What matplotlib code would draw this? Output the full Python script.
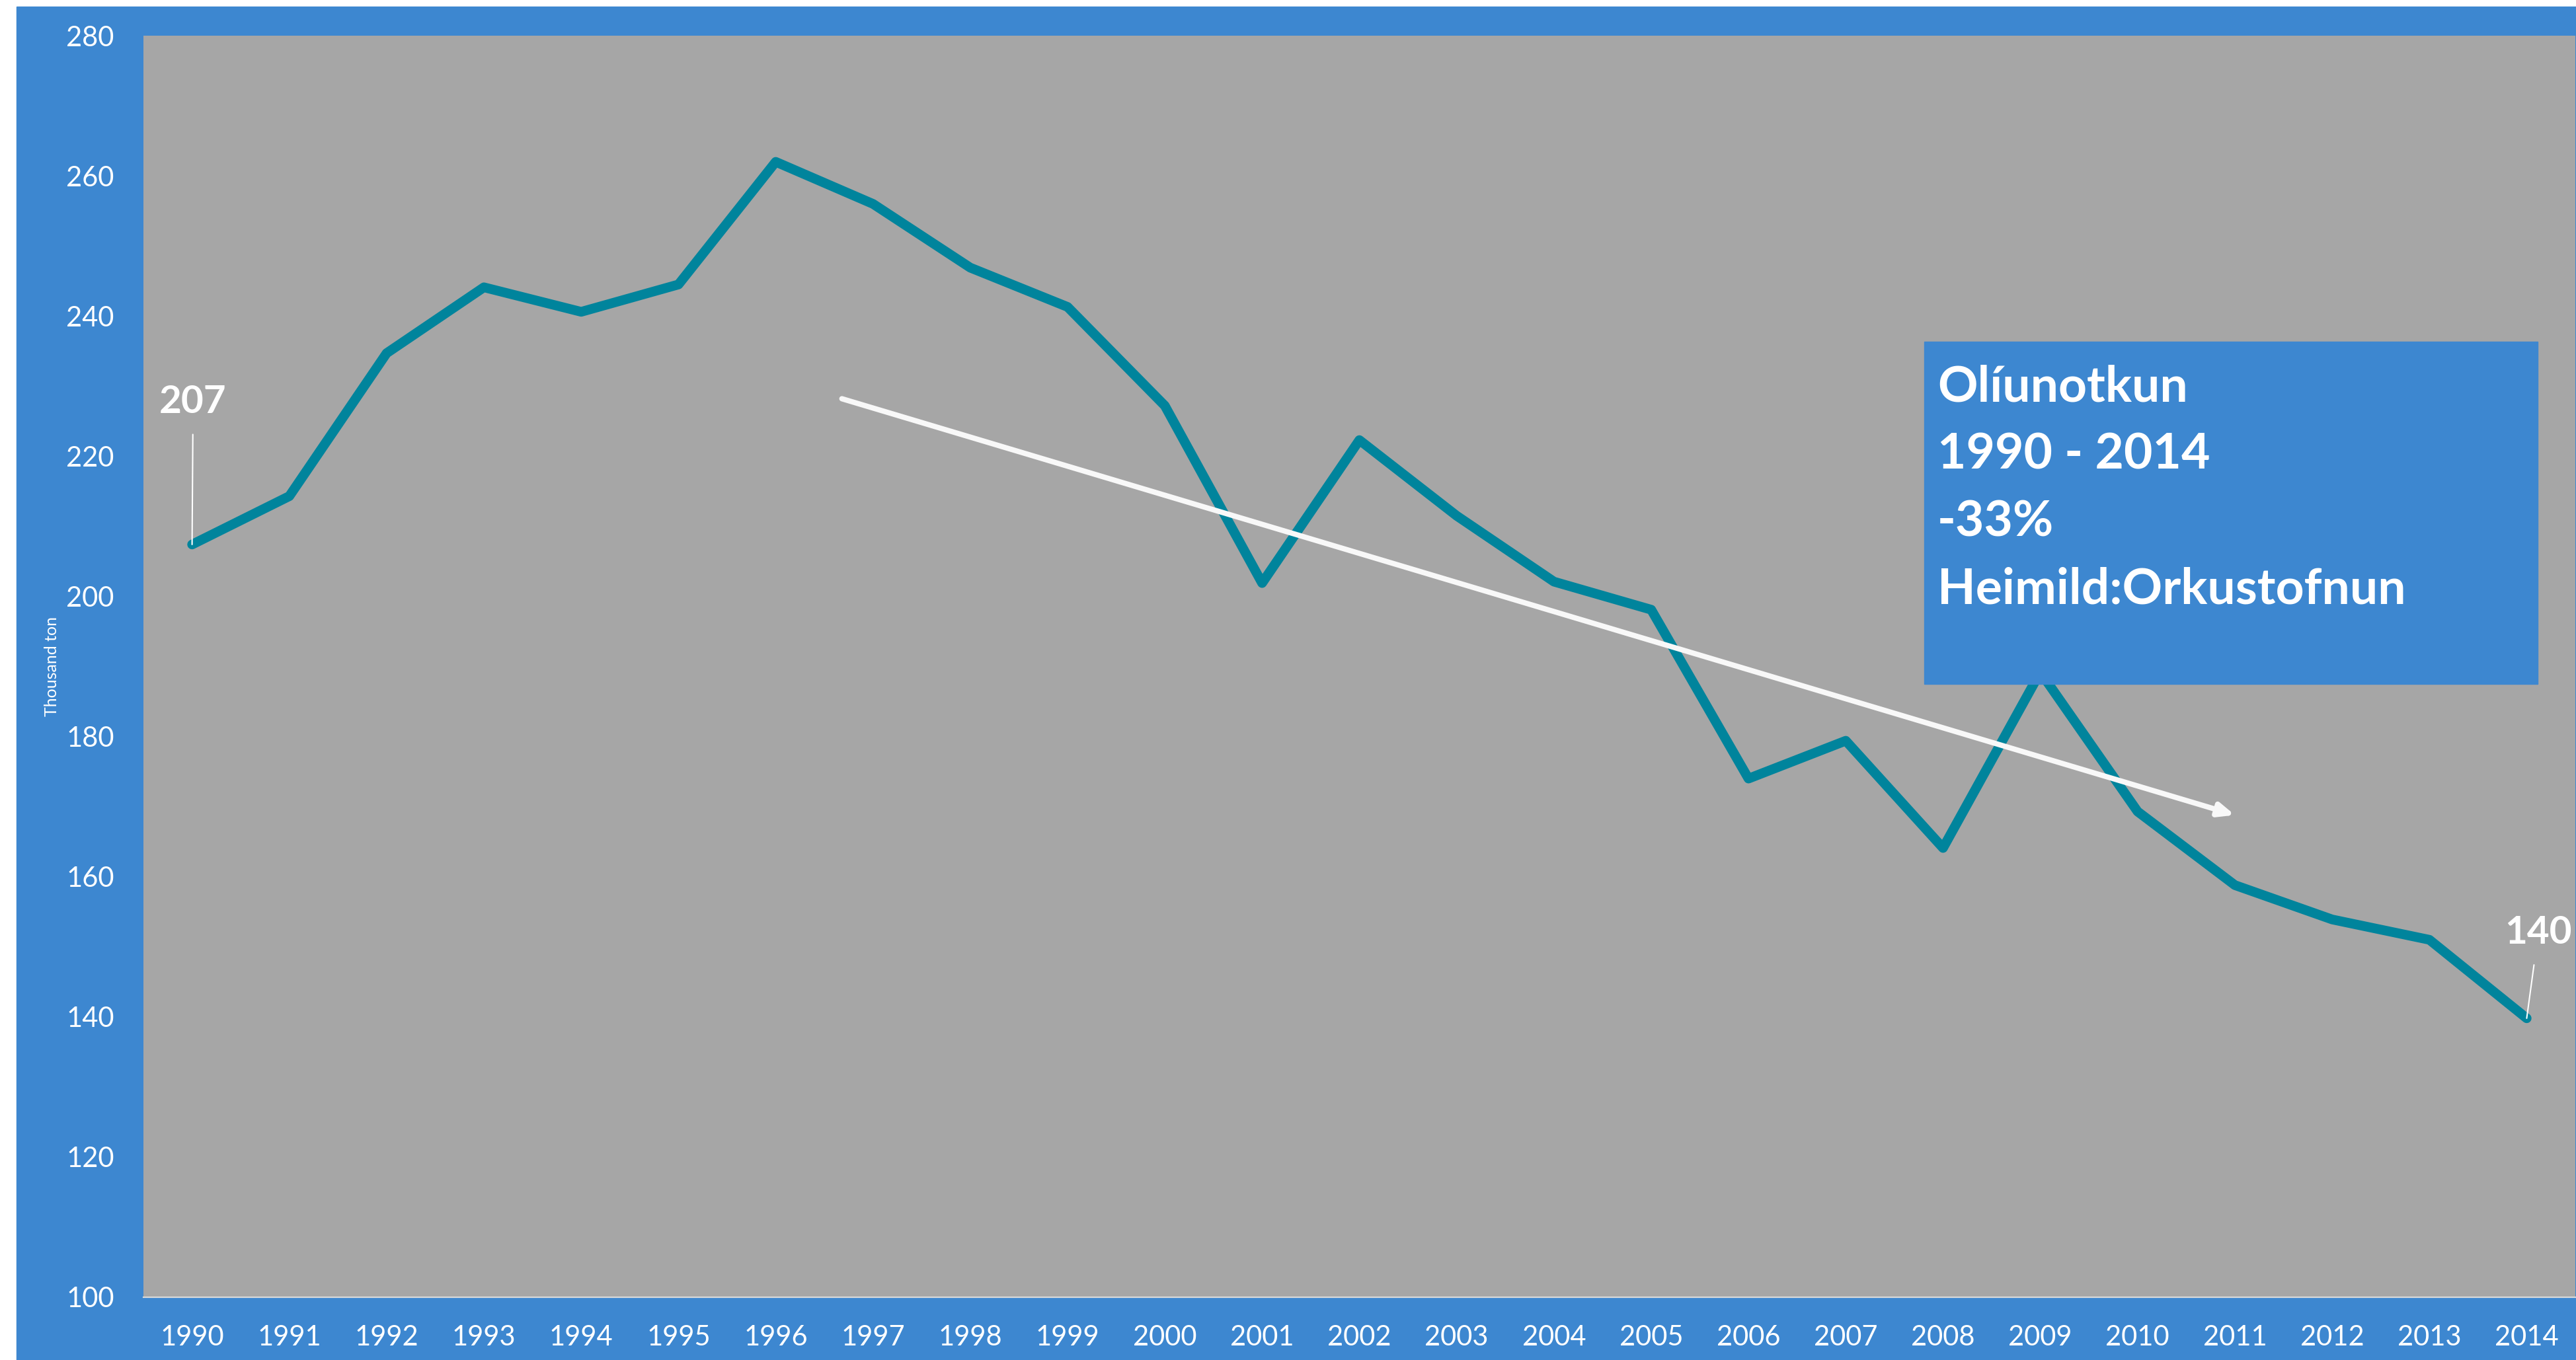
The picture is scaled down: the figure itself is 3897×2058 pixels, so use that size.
import matplotlib
matplotlib.use("Agg")
import matplotlib.pyplot as plt
from matplotlib.patches import Rectangle

plt.rcParams['font.family'] = ['Lato', 'DejaVu Sans']

# Olíunotkun á Íslandi, þúsund tonn
years = [str(y) for y in range(1990, 2015)]
oil_use = [207.4, 214.3, 234.7, 244.1, 240.6, 244.5, 262.0, 256.0, 246.9, 241.3,
           227.2, 201.9, 222.3, 211.5, 202.1, 198.1, 174.0, 179.4, 164.1, 189.2,
           169.3, 158.8, 153.9, 151.0, 139.8]
y_ticks = list(range(100, 281, 20))
box_lines = ["Olíunotkun", "1990 - 2014", "-33%", "Heimild:Orkustofnun"]
first_label = "207"
last_label = "140"

blue = '#3D87D0'
grey = '#A6A6A6'
teal = '#00849C'

fig = plt.figure(figsize=(38.98, 20.58), dpi=100, facecolor='white')
# blár bakgrunnur (smá hvít rönd efst og vinstra megin)
fig.patches.append(Rectangle((25 / 3898, 0), 1, 1 - 10 / 2058,
                             transform=fig.transFigure, color=blue, zorder=-1))

ax = fig.add_axes([217 / 3898, 1 - 1963 / 2058, (3896 - 217) / 3898, (1963 - 54) / 2058])
ax.set_zorder(1)
ax.set_facecolor(grey)

x = list(range(len(years)))
ax.plot(x, oil_use, color=teal, lw=10.5, solid_capstyle='round',
        solid_joinstyle='round', zorder=3)

ax.set_xlim(-0.5, len(years) - 0.5)
ax.set_ylim(100, 280)
ax.set_xticks(x)
ax.set_xticklabels(years)
ax.set_yticks(y_ticks)
ax.tick_params(axis='both', length=0, colors='white', labelsize=30)
ax.tick_params(axis='y', pad=32)
ax.tick_params(axis='x', pad=30)

for s in ['top', 'right', 'left']:
    ax.spines[s].set_visible(False)
ax.spines['bottom'].set_color('#D9D9D9')
ax.spines['bottom'].set_linewidth(1.6)

ax.set_ylabel("Thousand ton", color='white', fontsize=18)
ax.yaxis.set_label_coords(-0.0345, 0.5)

# gildi í upphafi og lok
ax.annotate(first_label, xy=(0, oil_use[0]), xytext=(0.01, 227.7),
            ha='center', va='center', color='white', fontsize=42, fontweight='bold',
            arrowprops=dict(arrowstyle='-', color='white', lw=1.5, shrinkA=14, shrinkB=0),
            zorder=4)
ax.annotate(last_label, xy=(24, oil_use[-1]), xytext=(24.12, 152.0),
            ha='center', va='center', color='white', fontsize=42, fontweight='bold',
            arrowprops=dict(arrowstyle='-', color='white', lw=1.5, shrinkA=14, shrinkB=0),
            zorder=4)

# leitnilína
ax.annotate('', xy=(21.0, 168.8), xytext=(6.68, 228.2),
            arrowprops=dict(arrowstyle='-|>,head_length=0.7,head_width=0.3',
                            mutation_scale=20, color='#F8F8F8', lw=5.8,
                            shrinkA=0, shrinkB=0),
            zorder=4)

# textakassi
box = Rectangle((2911 / 3898, 1 - 1035 / 2058), (3839 - 2911) / 3898, (1035 - 517) / 2058,
                transform=fig.transFigure, color=blue, zorder=5, clip_on=False)
ax.add_patch(box)
baselines = [607, 709, 811, 914]
for line, b in zip(box_lines, baselines):
    fig.text(2931 / 3898, 1 - b / 2058, line, color='white', fontsize=54,
             fontweight='bold', ha='left', va='baseline', zorder=6)

fig.savefig("out.png", dpi=100, facecolor=fig.get_facecolor())
